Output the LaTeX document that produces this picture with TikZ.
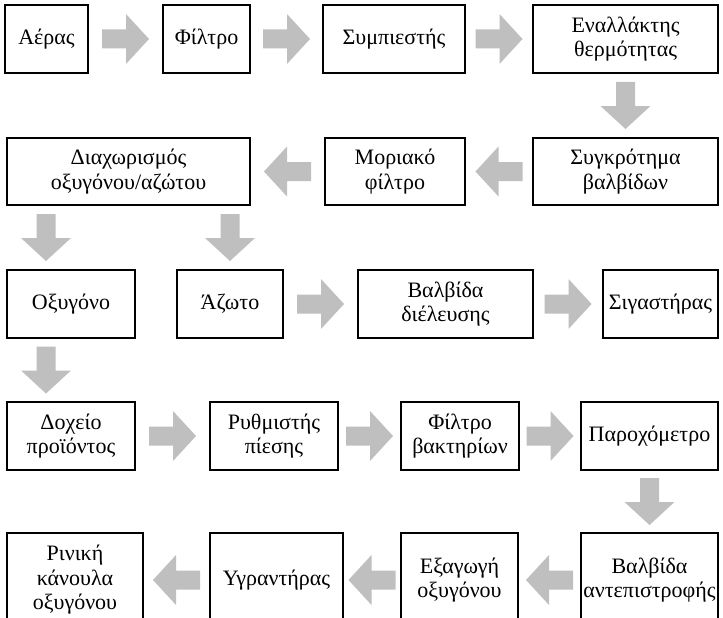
\documentclass[tikz,border=0pt]{standalone}
\usepackage{fontspec}
\setmainfont{Liberation Serif}
\usetikzlibrary{decorations.markings}
\definecolor{arrowgray}{RGB}{191,191,191}

\tikzstyle{b} = [rectangle, draw=black, line width=1.8pt, minimum height=68pt, inner xsep=0pt, inner ysep=2pt, align=center, font=\fontsize{22}{24.5}\selectfont]
\tikzstyle{flow} = [draw=none, postaction={decorate}, decoration={markings, mark=at position 0.5 with {\fill[arrowgray] (-23.5pt,-9.5pt) -- (0.5pt,-9.5pt) -- (0.5pt,-25pt) -- (23.5pt,0pt) -- (0.5pt,25pt) -- (0.5pt,9.5pt) -- (-23.5pt,9.5pt) -- cycle;}}]

\begin{document}
\begin{tikzpicture}[x=1pt,y=-1pt]
    \useasboundingbox (0,0) rectangle (723,618);
    \clip (0,0) rectangle (723,618);

    % row 1
    \node[b, minimum width=83pt] (Air) at (46.5,39) {Αέρας};
    \node[b, minimum width=87pt] (Flt) at (206.5,39) {Φίλτρο};
    \node[b, minimum width=142pt] (Cmp) at (394,39) {Συμπιεστής};
    \node[b, minimum width=185pt] (HEx) at (625.5,39) {Εναλλάκτης\\θερμότητας};

    % row 2
    \node[b, minimum width=243pt, minimum height=67pt] (Sep) at (128.5,171.5) {Διαχωρισμός\\οξυγόνου/αζώτου};
    \node[b, minimum width=140pt, minimum height=67pt] (MS) at (395,171.5) {Μοριακό\\φίλτρο};
    \node[b, minimum width=185pt, minimum height=67pt] (VB) at (625.5,171.5) {Συγκρότημα\\βαλβίδων};

    % row 3
    \node[b, minimum width=128pt] (O2) at (71,304) {Οξυγόνο};
    \node[b, minimum width=106pt] (N2) at (230,304) {Άζωτο};
    \node[b, minimum width=175pt] (BV) at (445.5,304) {Βαλβίδα\\διέλευσης};
    \node[b, minimum width=115pt] (Sil) at (660.5,304) {Σιγαστήρας};

    % row 4
    \node[b, minimum width=128pt] (Tank) at (71,436) {Δοχείο\\προϊόντος};
    \node[b, minimum width=128pt] (Reg) at (274,436) {Ρυθμιστής\\πίεσης};
    \node[b, minimum width=118pt] (BF) at (460,436) {Φίλτρο\\βακτηρίων};
    \node[b, minimum width=137pt] (FM) at (649.5,436) {Παροχόμετρο};

    % row 5 (cut off at the bottom)
    \node[b, minimum width=136pt, minimum height=94pt] (Can) at (75,580) {Ρινική\\κάνουλα\\οξυγόνου};
    \node[b, minimum width=133pt, minimum height=94pt] (Hum) at (276.5,580) {Υγραντήρας};
    \node[b, minimum width=117pt, minimum height=94pt] (Out) at (459.5,580) {Εξαγωγή\\οξυγόνου};
    \node[b, minimum width=137pt, minimum height=94pt] (CV) at (649.5,580) {Βαλβίδα\\αντεπιστροφής};

    \coordinate (O2top) at ([xshift=-25pt]O2.north);
    \coordinate (Tanktop) at ([xshift=-25pt]Tank.north);

    \path[every edge/.style={flow}]
    (Air) edge (Flt)
    (Flt) edge (Cmp)
    (Cmp) edge (HEx)
    (HEx) edge (VB)
    (VB) edge (MS)
    (MS) edge (Sep)
    (Sep.south -| O2top) edge (O2top)
    (Sep.south -| N2) edge (N2)
    (N2) edge (BV)
    (BV) edge (Sil)
    (O2.south -| Tanktop) edge (Tanktop)
    (Tank) edge (Reg)
    (Reg) edge (BF)
    (BF) edge (FM)
    (FM) edge (CV)
    (CV) edge (Out)
    (Out) edge (Hum)
    (Hum) edge (Can);

\end{tikzpicture}
\end{document}
